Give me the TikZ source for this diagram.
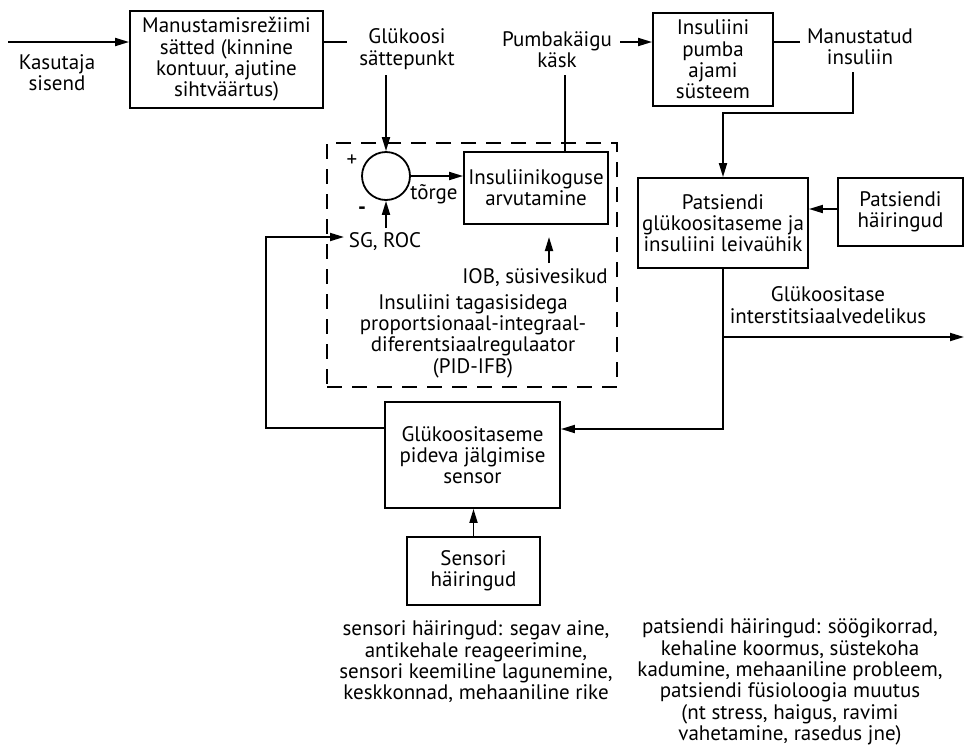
\documentclass[tikz,border=0pt]{standalone}
\usepackage{fontspec}
\setmainfont{PT Sans}
\usetikzlibrary{arrows.meta}
\begin{document}
\begin{tikzpicture}[x=1pt,y=-1pt, line width=1.8pt,
  every node/.style={font=\fontsize{21}{21.3}\selectfont},
  box/.style={draw, line width=1.8pt, align=center, inner sep=0pt},
  txt/.style={align=center, inner sep=0pt},
  arr/.style={-{Triangle[length=14pt,width=8pt]}},
  dbox/.style={draw, dash pattern=on 15pt off 10pt, inner sep=0pt}]
\useasboundingbox (0,0) rectangle (964,745);

% top left
\node[box, minimum width=193pt, minimum height=97pt] (man) at (226.5,59.5) {Manustamisrežiimi\\sätted (kinnine\\kontuur, ajutine\\sihtväärtus)};
\node[txt] (kas) at (57,73) {Kasutaja\\sisend};
\coordinate (kin) at (8,42);
\draw[arr] (kin) -- (kin -| man.west);
\node[txt] (gsp) at (407,49) {Glükoosi\\sättepunkt};
\coordinate (gspl) at (347,42);
\draw (man.east |- gspl) -- (gspl);

% PID block
\node[dbox, minimum width=290pt, minimum height=244pt] (pidbox) at (472,265) {};
\node[circle, draw, minimum size=48pt, inner sep=0pt] (sum) at (386,176) {};
\coordinate (gspd) at (386,75);
\draw[arr] (gspd) -- (sum.north);
\node[txt, font=\fontsize{21}{21}\selectfont] (plus) at (352,161) {+};
\node[txt, font=\fontsize{22}{22}\selectfont\bfseries] (minus) at (362,211) {-};
\node[box, minimum width=144pt, minimum height=72pt] (calc) at (536,188) {Insuliinikoguse\\arvutamine};
\draw[arr] (sum.east) -- (sum.east -| calc.west);
\node[txt] (trg) at (434,194) {tõrge};
\coordinate (sgin) at (386,228);
\draw[arr] (sgin) -- (sum.south);
\node[txt] (sg) at (385,242) {SG, ROC};
\coordinate (iobin) at (549,263);
\coordinate (iobtip) at (549,237);
\draw[arr] (iobin) -- (iobtip);
\node[txt] (iob) at (535,278) {IOB, süsivesikud};
\node[txt] (pid) at (473,336) {Insuliini tagasisidega\\proportsionaal-integraal-\\diferentsiaalregulaator\\(PID-IFB)};

% pump
\node[txt] (pbk) at (557,50) {Pumbakäigu\\käsk};
\coordinate (pbkd) at (565,75);
\draw (calc.north -| pbkd) -- (pbkd);
\node[box, minimum width=120pt, minimum height=93pt] (pump) at (713,59.5) {Insuliini\\pumba\\ajami\\süsteem};
\coordinate (pbkr) at (620,42);
\draw[arr] (pbkr) -- (pbkr -| pump.west);
\node[txt] (mins) at (860,47) {Manustatud\\insuliin};
\coordinate (mil) at (800,42);
\draw (pump.east |- mil) -- (mil);

% patient
\node[box, minimum width=170pt, minimum height=90pt] (pat) at (723,223) {Patsiendi\\glükoositaseme ja\\insuliini leivaühik};
\coordinate (mid) at (853,72);
\coordinate (mbend) at (853,113);
\draw[arr] (mid) -- (mbend) -- (mbend -| pat.north) -- (pat.north);
\node[box, minimum width=125pt, minimum height=68pt] (patd) at (900.5,212) {Patsiendi\\häiringud};
\coordinate (pda) at (838,209);
\draw[arr] (patd.west |- pda) -- (pda -| pat.east);
\coordinate (gout) at (964,337);
\draw[arr] (pat.south |- gout) -- (gout);
\node[txt] (gtxt) at (828,305) {Glükoositase\\interstitsiaalvedelikus};

% sensor
\node[box, minimum width=175pt, minimum height=106pt] (sens) at (472.5,455) {Glükoositaseme\\pideva jälgimise\\sensor};
\coordinate (pbend) at (723,429);
\draw[arr] (pat.south) -- (pbend) -- (pbend -| sens.east);
\coordinate (fb1) at (266,428);
\coordinate (fb2) at (266,237);
\coordinate (fb3) at (344,237);
\draw[arr] (sens.west |- fb1) -- (fb1) -- (fb2) -- (fb3);
\node[box, minimum width=133pt, minimum height=68pt] (sensd) at (473.5,571) {Sensori\\häiringud};
\draw[arr] (sensd.north) -- (sensd.north |- sens.south);

% notes
\node[txt] (sdt) at (476,662) {sensori häiringud: segav aine,\\antikehale reageerimine,\\sensori keemiline lagunemine,\\keskkonnad, mehaaniline rike};
\node[txt] (pdt) at (790,682) {patsiendi häiringud: söögikorrad,\\kehaline koormus, süstekoha\\kadumine, mehaaniline probleem,\\patsiendi füsioloogia muutus\\(nt stress, haigus, ravimi\\vahetamine, rasedus jne)};
\end{tikzpicture}
\end{document}
